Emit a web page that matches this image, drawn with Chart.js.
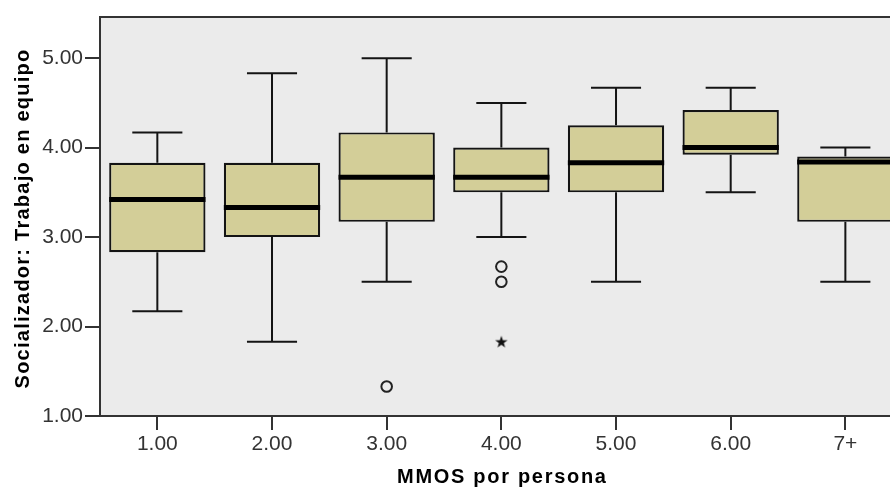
<!DOCTYPE html>
<html>
<head>
<meta charset="utf-8">
<script src="https://cdn.jsdelivr.net/npm/chart.js@4/dist/chart.umd.min.js"></script>
<style>
  html, body { margin: 0; padding: 0; background: #ffffff; overflow: hidden; }
  #wrap { width: 890px; height: 490px; overflow: hidden; position: relative; }
  canvas { display: block; }
</style>
</head>
<body>
<div id="wrap"><canvas id="chart" width="910" height="490"></canvas></div>
<script>
// Group labels (MMOS per person)
const categories = ['1.00', '2.00', '3.00', '4.00', '5.00', '6.00', '7+'];

// Box-plot summary per group
const whiskerLow  = [2.17, 1.83, 2.50, 3.00, 2.50, 3.50, 2.50];
const quartile1   = [2.83, 3.00, 3.17, 3.50, 3.50, 3.92, 3.17];
const medians     = [3.42, 3.33, 3.67, 3.67, 3.83, 4.00, 3.84];
const quartile3   = [3.83, 3.83, 4.17, 4.00, 4.25, 4.42, 3.90];
const whiskerHigh = [4.17, 4.83, 5.00, 4.50, 4.67, 4.67, 4.00];

// Outliers (circles) and extreme values (stars)
const outlierGroups = ['3.00', '4.00', '4.00'];
const outlierValues = [1.33, 2.67, 2.50];
const extremeGroups = ['4.00'];
const extremeValues = [1.83];

// Value axis ticks
const yTicks = [1, 2, 3, 4, 5];

// Axis titles
const xTitle = 'MMOS por persona';
const yTitle = 'Socializador: Trabajo en equipo';

const BOX_FILL = '#d3ce98';
const LINE = '#141414';
const PANEL = '#ebebeb';
const AXIS = '#333333';
const FONT = '"Liberation Sans", Arial, sans-serif';

// Small filled star used for extreme values
function makeStar() {
  const c = document.createElement('canvas');
  c.width = 14; c.height = 14;
  const g = c.getContext('2d');
  g.fillStyle = '#111';
  g.beginPath();
  for (let i = 0; i < 10; i++) {
    const r = i % 2 === 0 ? 6.5 : 2.6;
    const a = -Math.PI / 2 + i * Math.PI / 5;
    const px = 7 + r * Math.cos(a), py = 7.5 + r * Math.sin(a);
    if (i === 0) g.moveTo(px, py); else g.lineTo(px, py);
  }
  g.closePath();
  g.fill();
  return c;
}

// Panel background and frame
const panelPlugin = {
  id: 'panel',
  beforeDraw(chart) {
    const { ctx, chartArea: a } = chart;
    ctx.save();
    ctx.fillStyle = PANEL;
    ctx.fillRect(a.left, a.top, a.right - a.left, a.bottom - a.top);
    ctx.restore();
  },
  afterDraw(chart) {
    const { ctx, chartArea: a } = chart;
    ctx.save();
    ctx.strokeStyle = AXIS;
    ctx.lineWidth = 2;
    ctx.strokeRect(a.left, a.top, a.right - a.left, a.bottom - a.top);
    ctx.restore();
  }
};

// Bold, slightly tracked axis titles centred on the plot panel
const titlePlugin = {
  id: 'axisTitles',
  afterDraw(chart) {
    const { ctx, chartArea: a } = chart;
    ctx.save();
    ctx.fillStyle = '#000';
    ctx.font = 'bold 20px ' + FONT;
    ctx.textAlign = 'center';
    ctx.textBaseline = 'alphabetic';
    if ('letterSpacing' in ctx) ctx.letterSpacing = '1.7px';
    ctx.fillText(xTitle, (a.left + a.right) / 2 + 1, 483);
    if ('letterSpacing' in ctx) ctx.letterSpacing = '1.25px';
    ctx.translate(29, (a.top + a.bottom) / 2 + 2);
    ctx.rotate(-Math.PI / 2);
    ctx.fillText(yTitle, 0, 0);
    ctx.restore();
  }
};

// Whiskers behind the boxes, medians on top of them
const boxPlugin = {
  id: 'boxParts',
  beforeDatasetsDraw(chart) {
    const { ctx } = chart;
    const x = chart.scales.x, y = chart.scales.y;
    const meta = chart.getDatasetMeta(0);
    ctx.save();
    ctx.strokeStyle = LINE;
    ctx.lineWidth = 2;
    categories.forEach((c, i) => {
      const bar = meta.data[i];
      const cx = x.getPixelForValue(i);
      const capHalf = bar.width * 0.26;
      const yLo = y.getPixelForValue(whiskerLow[i]);
      const yHi = y.getPixelForValue(whiskerHigh[i]);
      const yQ1 = y.getPixelForValue(quartile1[i]);
      const yQ3 = y.getPixelForValue(quartile3[i]);
      ctx.beginPath();
      ctx.moveTo(cx, yHi); ctx.lineTo(cx, yQ3);
      ctx.moveTo(cx, yQ1); ctx.lineTo(cx, yLo);
      ctx.moveTo(cx - capHalf, yHi); ctx.lineTo(cx + capHalf, yHi);
      ctx.moveTo(cx - capHalf, yLo); ctx.lineTo(cx + capHalf, yLo);
      ctx.stroke();
    });
    ctx.restore();
  },
  afterDatasetsDraw(chart) {
    const { ctx } = chart;
    const x = chart.scales.x, y = chart.scales.y;
    const meta = chart.getDatasetMeta(0);
    ctx.save();
    ctx.strokeStyle = '#000';
    ctx.lineWidth = 5;
    categories.forEach((c, i) => {
      const bar = meta.data[i];
      const cx = x.getPixelForValue(i);
      const half = bar.width / 2;
      const ym = y.getPixelForValue(medians[i]);
      ctx.beginPath();
      ctx.moveTo(cx - half, ym); ctx.lineTo(cx + half, ym);
      ctx.stroke();
    });
    ctx.restore();
  }
};

new Chart(document.getElementById('chart'), {
  type: 'bar',
  data: {
    labels: categories,
    datasets: [
      {
        type: 'bar',
        data: quartile1.map((q, i) => [q, quartile3[i]]),
        backgroundColor: BOX_FILL,
        borderColor: LINE,
        borderWidth: 2.2,
        borderSkipped: false,
        categoryPercentage: 0.84,
        barPercentage: 1.0,
        order: 2
      },
      {
        type: 'line',
        data: outlierGroups.map((g, i) => ({ x: g, y: outlierValues[i] })),
        showLine: false,
        pointStyle: 'circle',
        pointRadius: 5.3,
        pointBorderWidth: 2,
        pointBorderColor: '#222',
        pointBackgroundColor: 'rgba(0,0,0,0)',
        order: 1
      },
      {
        type: 'line',
        data: extremeGroups.map((g, i) => ({ x: g, y: extremeValues[i] })),
        showLine: false,
        pointStyle: makeStar(),
        pointRadius: 6,
        order: 0
      }
    ]
  },
  options: {
    responsive: false,
    animation: false,
    events: [],
    layout: { padding: { top: 17, right: 0, left: 0, bottom: 0 } },
    plugins: { legend: { display: false }, tooltip: { enabled: false } },
    scales: {
      x: {
        type: 'category',
        offset: true,
        afterFit(scale) { scale.height = 74; },
        grid: {
          display: true, drawOnChartArea: false, drawTicks: true,
          offset: false, tickLength: 14, color: AXIS, lineWidth: 2
        },
        border: { display: true, color: AXIS, width: 2 },
        ticks: {
          color: '#333',
          padding: 2,
          maxRotation: 0,
          font: { family: FONT, size: 21 }
        },
        title: { display: false }
      },
      y: {
        min: 1,
        max: 5.46,
        afterFit(scale) { scale.width = 100; },
        afterBuildTicks(scale) { scale.ticks = yTicks.map(v => ({ value: v })); },
        grid: {
          display: true, drawOnChartArea: false, drawTicks: true,
          tickLength: 15, color: AXIS, lineWidth: 2
        },
        border: { display: true, color: AXIS, width: 2 },
        ticks: {
          color: '#333',
          padding: 2,
          callback: v => Number(v).toFixed(2),
          font: { family: FONT, size: 21 }
        },
        title: { display: false }
      }
    }
  },
  plugins: [panelPlugin, boxPlugin, titlePlugin]
});
</script>
</body>
</html>
